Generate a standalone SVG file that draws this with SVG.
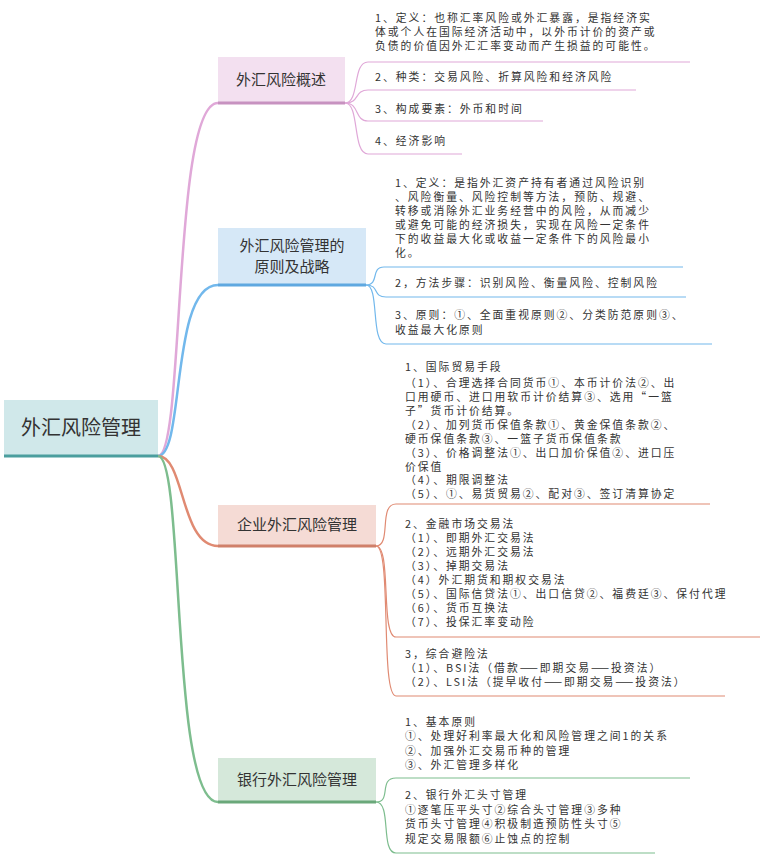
<svg xmlns="http://www.w3.org/2000/svg" width="760" height="863" viewBox="0 0 760 863">
<style>
text{font-family:"Noto Sans CJK SC","Liberation Sans",sans-serif;fill:#333}
.l{font-size:10.8px;letter-spacing:2px}
.b{font-size:15px;text-anchor:middle}
.c{fill:none;stroke-width:1.2}
</style>
<rect width="760" height="863" fill="#fff"/>
<g id="connectors">
<path d="M158,456 C185,456 172,103 218,103" fill="none" stroke="#e0a8d8" stroke-width="2.5"/>
<path d="M158,456 C185,456 170,285 218,285" fill="none" stroke="#72b8ec" stroke-width="2.5"/>
<path d="M158,456 C185,456 180,546 218,546" fill="none" stroke="#e08a72" stroke-width="2.5"/>
<path d="M158,456 C185,456 170,802 218,802" fill="none" stroke="#7dbd8e" stroke-width="2.5"/>
<g stroke="#e0a8d8" class="c">
<path d="M345,103 C360,103 352,62 368,62 H690"/>
<path d="M345,103 C360,103 354,90 368,90 H636"/>
<path d="M345,103 C360,103 354,121 368,121 H543"/>
<path d="M345,103 C360,103 352,154 368,154 H462"/>
</g>
<g stroke="#72b8ec" class="c">
<path d="M366,285 C380,285 370,267 384,267 H683"/>
<path d="M366,285 C380,285 372,297 386,297 H686"/>
<path d="M366,285 C380,285 370,344 386,344 H712"/>
</g>
<g stroke="#e08a72" class="c">
<path d="M376,546 C392,546 378,504 396,504 H710"/>
<path d="M376,546 C392,546 380,637 396,637 H760"/>
<path d="M376,546 C392,546 380,696 396,696 H725"/>
</g>
<g stroke="#7dbd8e" class="c">
<path d="M376,802 C392,802 378,778 396,778 H690"/>
<path d="M376,802 C392,802 380,853 396,853 H655"/>
</g>
</g>
<g id="root">
<rect x="4" y="400" width="154" height="56" fill="#d0e8ea"/>
<line x1="4" y1="456" x2="158" y2="456" stroke="#4a9e9e" stroke-width="3"/>
<text x="81" y="435" style="font-size:20px;text-anchor:middle">外汇风险管理</text>
</g>
<g id="b1">
<rect x="218" y="57" width="127" height="46" fill="#f3e0f0"/>
<line x1="218" y1="103" x2="345" y2="103" stroke="#c792c0" stroke-width="3"/>
<text x="281" y="85" class="b">外汇风险概述</text>
</g>
<g id="b1leaves" class="l">
<text x="375" y="22">1、定义：也称汇率风险或外汇暴露，是指经济实</text>
<text x="375" y="36">体或个人在国际经济活动中，以外币计价的资产或</text>
<text x="375" y="50">负债的价值因外汇汇率变动而产生损益的可能性。</text>
<text x="375" y="81">2、种类：交易风险、折算风险和经济风险</text>
<text x="375" y="113">3、构成要素：外币和时间</text>
<text x="375" y="145">4、经济影响</text>
</g>
<g id="b2">
<rect x="218" y="228" width="148" height="57" fill="#d6e8f7"/>
<line x1="218" y1="285" x2="366" y2="285" stroke="#5fa8e0" stroke-width="3"/>
<text x="292" y="251" class="b">外汇风险管理的</text>
<text x="292" y="272" class="b">原则及战略</text>
</g>
<g id="b2leaves" class="l">
<text x="395" y="187">1、定义：是指外汇资产持有者通过风险识别</text>
<text x="395" y="201">、风险衡量、风险控制等方法，预防、规避、</text>
<text x="395" y="215">转移或消除外汇业务经营中的风险，从而减少</text>
<text x="395" y="229">或避免可能的经济损失，实现在风险一定条件</text>
<text x="395" y="243">下的收益最大化或收益一定条件下的风险最小</text>
<text x="395" y="257">化。</text>
<text x="395" y="287">2，方法步骤：识别风险、衡量风险、控制风险</text>
<text x="395" y="319">3、原则：①、全面重视原则②、分类防范原则③、</text>
<text x="395" y="334">收益最大化原则</text>
</g>
<g id="b3">
<rect x="218" y="505" width="158" height="41" fill="#f5dbd5"/>
<line x1="218" y1="546" x2="376" y2="546" stroke="#d0806a" stroke-width="3"/>
<text x="297" y="530" class="b">企业外汇风险管理</text>
</g>
<g id="b3leaves" class="l">
<text x="405" y="371">1、国际贸易手段</text>
<text x="405" y="387">（1）、合理选择合同货币①、本币计价法②、出</text>
<text x="405" y="401">口用硬币、进口用软币计价结算③、选用“一篮</text>
<text x="405" y="415">子”货币计价结算。</text>
<text x="405" y="429">（2）、加列货币保值条款①、黄金保值条款②、</text>
<text x="405" y="443">硬币保值条款③、一篮子货币保值条款</text>
<text x="405" y="457">（3）、价格调整法①、出口加价保值②、进口压</text>
<text x="405" y="471">价保值</text>
<text x="405" y="484">（4）、期限调整法</text>
<text x="405" y="498">（5）、①、易货贸易②、配对③、签订清算协定</text>
<text x="405" y="528">2、金融市场交易法</text>
<text x="405" y="542">（1）、即期外汇交易法</text>
<text x="405" y="556">（2）、远期外汇交易法</text>
<text x="405" y="570">（3）、掉期交易法</text>
<text x="405" y="584">（4）外汇期货和期权交易法</text>
<text x="405" y="598">（5）、国际信贷法①、出口信贷②、福费廷③、保付代理</text>
<text x="405" y="612">（6）、货币互换法</text>
<text x="405" y="626">（7）、投保汇率变动险</text>
<text x="405" y="658">3，综合避险法</text>
<text x="405" y="672">（1）、BSI法（借款——即期交易——投资法）</text>
<text x="405" y="686">（2）、LSI法（提早收付——即期交易——投资法）</text>
</g>
<g id="b4">
<rect x="218" y="758" width="158" height="44" fill="#d5e8da"/>
<line x1="218" y1="802" x2="376" y2="802" stroke="#6aa87a" stroke-width="3"/>
<text x="297" y="785" class="b">银行外汇风险管理</text>
</g>
<g id="b4leaves" class="l">
<text x="405" y="726">1、基本原则</text>
<text x="405" y="740">①、处理好利率最大化和风险管理之间1的关系</text>
<text x="405" y="755">②、加强外汇交易币种的管理</text>
<text x="405" y="769">③、外汇管理多样化</text>
<text x="405" y="799">2、银行外汇头寸管理</text>
<text x="405" y="814">①逐笔压平头寸②综合头寸管理③多种</text>
<text x="405" y="828">货币头寸管理④积极制造预防性头寸⑤</text>
<text x="405" y="843">规定交易限额⑥止蚀点的控制</text>
</g>
</svg>
